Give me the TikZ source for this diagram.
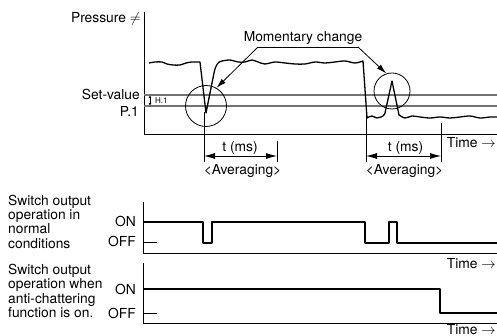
\documentclass[tikz,border=0pt]{standalone}
\usepackage{fontspec}
\setmainfont{TeX Gyre Heros}
\usetikzlibrary{arrows.meta}
\begin{document}
\begin{tikzpicture}[x=1pt,y=-1pt,
  txt/.style={inner sep=0pt,font=\fontsize{13.8}{14.5}\selectfont},
  small/.style={inner sep=0pt,font=\fontsize{8}{9}\selectfont},
  axis/.style={line width=1pt,black},
  level/.style={line width=1.1pt,black!55},
  sig/.style={line width=1.3pt,black,line join=round},
  curve/.style={line width=1.3pt,black,line join=round},
  thin/.style={line width=0.8pt,black},
  ring/.style={circle,draw,line width=0.8pt,inner sep=0pt},
  tip/.style={-{Latex[length=10pt,width=5.5pt]}},
]
\useasboundingbox (0,0) rectangle (497,336);
% ---------- top graph ----------
\coordinate (yTop) at (144,12);
\coordinate (org) at (144,135);
\coordinate (xEnd) at (497,135);
\draw[axis] (yTop) -- (org) -- (xEnd);
\coordinate (sv0) at (144,95); \coordinate (sv1) at (497,95);
\coordinate (p0) at (144,106); \coordinate (p1e) at (497,106);
\draw[level] (sv0) -- (sv1);
\draw[level] (p0) -- (p1e);
\node[txt,anchor=base east] (pr) at (141,23) {Pressure $\neq$};
\node[txt,anchor=base east] (setv) at (140,100) {Set-value};
\node[txt,anchor=base east] (pone) at (139,117) {P.1};
\coordinate (ha) at (150,95.5); \coordinate (hb) at (150,105.5);
\draw[line width=0.7pt,{Latex[length=2.5pt,width=3pt]}-{Latex[length=2.5pt,width=3pt]}] (ha) -- (hb);
\node[small,anchor=west] (hone) at (155,100.5) {H.1};
% pressure curve
\draw[curve] plot[smooth,tension=0.55] coordinates {(149,63) (155,62) (162,62) (167,64) (173,65) (180,65) (186,63) (192,62) (200,62)}
  -- (206,113) -- (214,73) .. controls (216,64) and (218,62) .. (222,61)
  -- plot[smooth,tension=0.55] coordinates {(222,61) (230,60) (238,62) (245,62) (252,60) (258,62) (265,64) (275,62) (285,63) (295,64) (305,64) (315,62) (325,63) (335,62) (345,61) (355,63) (363,61)}
  -- (367,118) -- plot[smooth,tension=0.55] coordinates {(367,118) (372,116) (377,118) (383,116) (385,113)}
  -- (392,81) -- (399,115) -- plot[smooth,tension=0.55] coordinates {(399,115) (405,118) (412,116) (420,117) (430,118) (440,117) (450,118) (460,117) (470,116) (480,118) (490,117) (497,117)};
% circles
\node[ring,minimum size=41pt] (c1) at (206,106) {};
\node[ring,minimum size=36pt] (c2) at (392,91) {};
% momentary change label
\node[txt,anchor=base] (mc) at (303,42) {Momentary change};
\coordinate (ul) at (258,47); \coordinate (ur) at (358,47);
\draw[thin,tip] (ul) -- (c1.60);
\draw[thin] (ul) -- (ur);
\draw[thin,tip] (ur) -- (c2.108);
% averaging 1
\coordinate (a1t) at (204,112); \coordinate (a1b) at (204,162);
\coordinate (a1rt) at (277,141); \coordinate (a1rb) at (277,162);
\draw[thin] (a1t) -- (a1b);
\draw[thin] (a1rt) -- (a1rb);
\coordinate (a1l) at (204,156); \coordinate (a1r) at (277,156);
\draw[thin,{Latex[length=11pt,width=6pt]}-{Latex[length=11pt,width=6pt]}] (a1l) -- (a1r);
\node[txt,anchor=base] (t1) at (240,152) {t (ms)};
\node[txt,anchor=base] (avg1) at (242.5,175) {<Averaging>};
% averaging 2
\coordinate (a2t) at (366,115); \coordinate (a2b) at (366,162);
\coordinate (a2rt) at (441,123); \coordinate (a2rb) at (441,162);
\draw[thin] (a2t) -- (a2b);
\draw[thin] (a2rt) -- (a2rb);
\coordinate (a2l) at (366,156); \coordinate (a2r) at (441,156);
\draw[thin,{Latex[length=11pt,width=6pt]}-{Latex[length=11pt,width=6pt]}] (a2l) -- (a2r);
\node[txt,anchor=base] (t2) at (405.5,152) {t (ms)};
\node[txt,anchor=base] (avg2) at (404.5,175) {<Averaging>};
\node[txt,anchor=base east] (time1) at (496,148) {Time $\rightarrow$};
% ---------- panel 1 ----------
\node[txt,anchor=base west,align=left] (lbl1) at (8,248.5) {Switch output\\operation in\\normal\\conditions};
\node[txt,anchor=east] (on1) at (136,221.5) {ON};
\node[txt,anchor=east] (off1) at (136,241.5) {OFF};
\coordinate (q1t) at (143,202); \coordinate (q1o) at (143,254); \coordinate (q1e) at (497,254);
\draw[axis] (q1t) -- (q1o) -- (q1e);
\coordinate (o1a) at (143,243); \coordinate (o1b) at (157,243);
\draw[axis] (o1a) -- (o1b);
\draw[sig] (143,222) -- (203,222) -- (203,243) -- (212,243) -- (212,222) -- (365,222) -- (365,243) -- (389,243) -- (389,222) -- (397,222) -- (397,243) -- (497,243);
\node[txt,anchor=base east] (time2) at (496,269) {Time $\rightarrow$};
% ---------- panel 2 ----------
\node[txt,anchor=base west,align=left] (lbl2) at (8,317.5) {Switch output\\operation when\\anti-chattering\\function is on.};
\node[txt,anchor=east] (on2) at (136,289.5) {ON};
\node[txt,anchor=east] (off2) at (136,313.5) {OFF};
\coordinate (q2t) at (143,263); \coordinate (q2o) at (143,323); \coordinate (q2e) at (497,323);
\draw[axis] (q2t) -- (q2o) -- (q2e);
\coordinate (o2a) at (143,313); \coordinate (o2b) at (157,313);
\draw[axis] (o2a) -- (o2b);
\draw[sig] (143,289) -- (440,289) -- (440,313) -- (497,313);
\node[txt,anchor=base east] (time3) at (496,334.5) {Time $\rightarrow$};
\end{tikzpicture}
\end{document}
